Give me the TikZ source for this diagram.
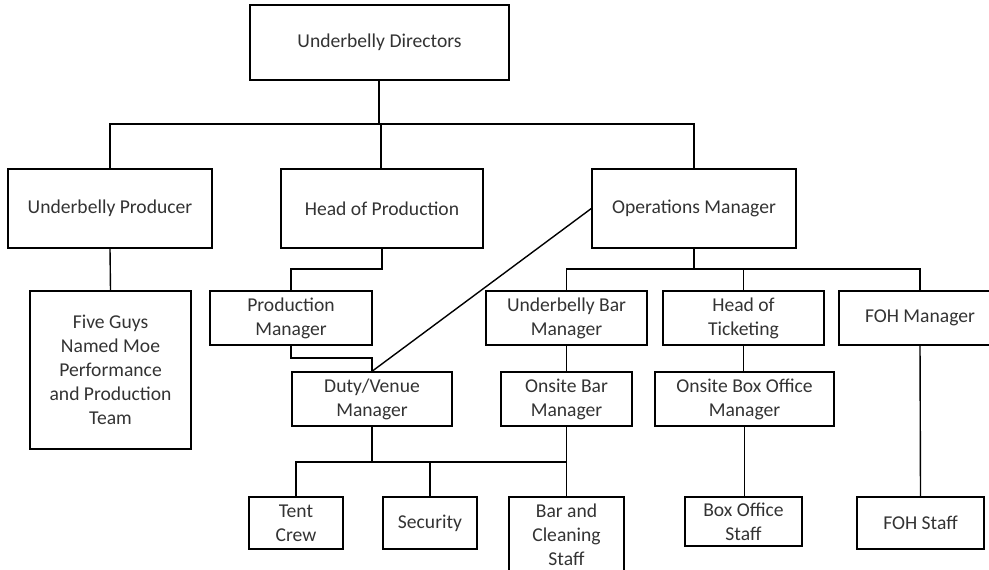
\documentclass[tikz,border=0pt]{standalone}
\usepackage{fontspec}
\setmainfont{Carlito}
\tikzset{
  box/.style={draw, line width=0.7pt, align=center, inner sep=0pt,
    font=\fontsize{9.8}{12}\selectfont, text=black!80},
  boxsize/.style 2 args={minimum width=#1*0.5pt, minimum height=#2*0.5pt},
  link/.style={line width=0.7pt},
  stem/.style={line width=1pt},
}
\begin{document}
\begin{tikzpicture}[x=0.5pt,y=-0.5pt]
\useasboundingbox (0,0) rectangle (989,569);
\clip (0,0) rectangle (989,569);

\node[box, boxsize={259}{75}] (dir) at (379.5,42.5) {Underbelly Directors};

\node[box, boxsize={204}{79}] (prod) at (110,208.5) {Underbelly Producer};
\node[box, boxsize={202}{79}] (hop) at (382,208.5) {Head of Production};
\node[box, boxsize={204}{79}] (ops) at (694,208.5) {Operations Manager};

\node[box, boxsize={161}{158}] (five) at (110.5,370) {Five Guys\\Named Moe\\Performance\\and Production\\Team};
\node[box, boxsize={162}{54}] (pm) at (291,318) {Production\\Manager};
\node[box, boxsize={161}{54}] (ubm) at (566.5,318) {Underbelly Bar\\Manager};
\node[box, boxsize={161}{54}] (hot) at (743.5,318) {Head of\\Ticketing};
\node[box, boxsize={162}{54}] (foh) at (920,318) {FOH Manager};

\node[box, boxsize={160}{54}] (duty) at (372,399) {Duty/Venue\\Manager};
\node[box, boxsize={131}{54}] (obm) at (566.5,399) {Onsite Bar\\Manager};
\node[box, boxsize={179}{54}] (obom) at (744.5,399) {Onsite Box Office\\Manager};

\node[box, boxsize={94}{52}] (tent) at (296,523) {Tent\\Crew};
\node[box, boxsize={94}{52}] (sec) at (430,523) {Security};
\node[box, boxsize={115}{76}] (bar) at (566.5,535) {Bar and\\Cleaning\\Staff};
\node[box, boxsize={117}{49}] (bos) at (743.5,521.5) {Box Office\\Staff};
\node[box, boxsize={127}{52}] (fohs) at (920.5,523) {FOH Staff};

\coordinate (b1) at (379,124);
\coordinate (b2) at (694,269);
\coordinate (b3) at (372,462);
\coordinate (hb) at (382,269);
\coordinate (pb) at (291,358);

\draw[stem] (dir.south -| b1) -- (b1);
\draw[link] (prod.north) |- (b1) -| (ops.north);
\draw[link] (b1 -| 381,0) -- (hop.north -| 381,0);
\draw[link] (prod.south) -- (five.north);

\draw[link] (hop.south) -- (hb) -| (pm.north);
\draw[link] (pm.south) -- (pb) -| (duty.north);
\draw[link] (duty.north) -- (ops.west);

\draw[stem] (ops.south) -- (b2);
\draw[link] (ubm.north) |- (b2) -| (foh.north);
\draw[link] (b2 -| hot.north) -- (hot.north);
\draw[link] (ubm.south) -- (obm.north);
\draw[link] (hot.south) -- (hot.south |- obom.north);
\draw[link] (bos.north -| obom.south) -- (obom.south);
\draw[link] (foh.south) -- (fohs.north);

\draw[stem] (duty.south) -- (b3);
\draw[link] (tent.north) |- (b3) -| (obm.south);
\draw[link] (b3 -| sec.north) -- (sec.north);
\draw[link] (obm.south) -- (bar.north);
\end{tikzpicture}
\end{document}
